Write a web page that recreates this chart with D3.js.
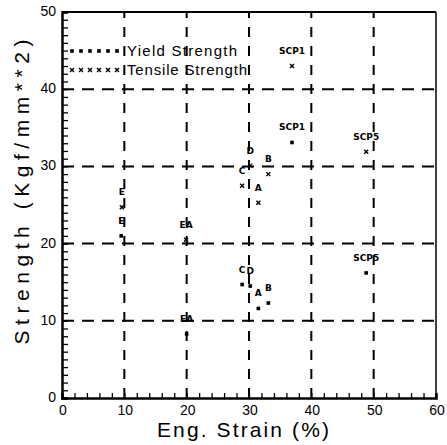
<!DOCTYPE html>
<html><head><meta charset="utf-8">
<script src="https://cdn.jsdelivr.net/npm/d3@7/dist/d3.min.js"></script>
<style>body{margin:0;background:#fff}svg{display:block}</style>
</head><body>
<svg id="c" width="447" height="445"></svg>
<script>
const xTicks = [0, 10, 20, 30, 40, 50, 60];
const yTicks = [0, 10, 20, 30, 40, 50];
const xGrid = [10, 20, 30, 40, 50];
const yGrid = [10, 20, 30, 40];
const yieldNames   = ["E", "EA", "C", "D", "A", "B", "SCP1", "SCP5"];
const yieldStrain  = [9.5, 20.0, 28.9, 30.2, 31.5, 33.1, 36.9, 48.8];
const yieldValues  = [21.0, 8.3, 14.7, 14.5, 11.6, 12.3, 33.1, 16.2];
const tensileNames  = ["E", "EA", "C", "D", "A", "B", "SCP1", "SCP5"];
const tensileStrain = [9.6, 19.9, 28.9, 30.2, 31.5, 33.1, 36.9, 48.8];
const tensileValues = [24.7, 20.5, 27.5, 30.1, 25.3, 29.0, 43.0, 31.9];
const legendLabels = ["Yield Strength", "Tensile Strength"];

const W = 447, H = 445;
const m = {l: 62, r: 11, t: 12, b: 47};
const svg = d3.select("#c");
const x = d3.scaleLinear().domain([0, 60]).range([m.l, W - m.r]);
const y = d3.scaleLinear().domain([0, 50]).range([H - m.b, m.t]);
const font = "'Liberation Sans', Arial, sans-serif";

// grid
svg.append("g").selectAll("line").data(yGrid).join("line")
  .attr("x1", x(0)).attr("x2", x(60)).attr("y1", d => y(d)).attr("y2", d => y(d))
  .attr("stroke", "#000").attr("stroke-width", 2).attr("stroke-dasharray", "12,8");
svg.append("g").selectAll("line").data(xGrid).join("line")
  .attr("y1", y(0)).attr("y2", y(50)).attr("x1", d => x(d)).attr("x2", d => x(d))
  .attr("stroke", "#000").attr("stroke-width", 2).attr("stroke-dasharray", "10,9");

// frame
svg.append("line").attr("x1", x(0)).attr("x2", x(60)).attr("y1", y(50)).attr("y2", y(50)).attr("stroke", "#000").attr("stroke-width", 2);
svg.append("line").attr("x1", x(60)).attr("x2", x(60)).attr("y1", y(50)).attr("y2", y(0)).attr("stroke", "#000").attr("stroke-width", 1.5);

// axes
const xAxis = d3.axisBottom(x).tickValues(d3.range(0, 61, 2)).tickSize(-5).tickFormat("");
const yAxis = d3.axisLeft(y).tickValues(d3.range(0, 51, 1)).tickSize(-6).tickFormat("");
const gx = svg.append("g").attr("transform", `translate(0,${y(0)})`).call(xAxis);
const gy = svg.append("g").attr("transform", `translate(${x(0)},0)`).call(yAxis);
[gx, gy].forEach(g => {
  g.select(".domain").attr("stroke-width", 2.5);
  g.selectAll(".tick line").attr("stroke-width", 1.3);
});
svg.append("g").selectAll("text").data(xTicks).join("text")
  .attr("x", d => x(d) + 1).attr("y", y(0) + 17).attr("text-anchor", "middle")
  .attr("font-family", font).attr("font-size", 14).text(d => d);
svg.append("g").selectAll("text").data(yTicks).join("text")
  .attr("x", x(0) - 6).attr("y", d => y(d) + 4).attr("text-anchor", "end")
  .attr("font-family", font).attr("font-size", 14).text(d => d);

// titles
svg.append("text").attr("x", 243).attr("y", 437).attr("text-anchor", "middle")
  .attr("font-family", font).attr("font-size", 21).attr("textLength", 172)
  .attr("lengthAdjust", "spacing").text("Eng. Strain (%)");
svg.append("text").attr("transform", `translate(29,${192}) rotate(-90)`).attr("text-anchor", "middle")
  .attr("font-family", font).attr("font-size", 21).attr("textLength", 305)
  .attr("lengthAdjust", "spacing").text("Strength (Kgf/mm**2)");

// markers
function yieldMark(g) {
  g.append("rect").attr("x", -1.8).attr("y", -1.8).attr("width", 3.6).attr("height", 3.6).attr("fill", "#000");
}
function tensMark(g) {
  g.append("path").attr("d", "M-2,-2L2,2M-2,2L2,-2").attr("stroke", "#000").attr("stroke-width", 1.4);
}
const labelStyle = t => t.attr("font-family", "'DejaVu Sans', sans-serif").attr("font-size", 9)
  .attr("font-weight", "bold").attr("text-anchor", "middle");

const yData = yieldNames.map((n, i) => ({n, sx: yieldStrain[i], v: yieldValues[i]}));
const tData = tensileNames.map((n, i) => ({n, sx: tensileStrain[i], v: tensileValues[i]}));
[[yData, yieldMark], [tData, tensMark]].forEach(([data, mk]) => {
  const g = svg.append("g").selectAll("g").data(data).join("g")
    .attr("transform", d => `translate(${x(d.sx)},${y(d.v)})`);
  g.each(function() { mk(d3.select(this)); });
  g.append("text").attr("y", -12).call(labelStyle).text(d => d.n);
});

// legend
const lg = svg.append("g");
legendLabels.forEach((lab, i) => {
  const yy = 51 + i * 19;
  const row = lg.append("g");
  d3.range(6).forEach(k => {
    const g = row.append("g").attr("transform", `translate(${72 + k * 9},${yy})`);
    (i === 0 ? yieldMark : tensMark)(g);
  });
  row.append("text").attr("x", 127).attr("y", yy + 5).attr("font-family", font).attr("font-size", 15)
    .attr("textLength", i === 0 ? 110 : 120).attr("lengthAdjust", "spacing").text(lab);
});
</script>
</body></html>
